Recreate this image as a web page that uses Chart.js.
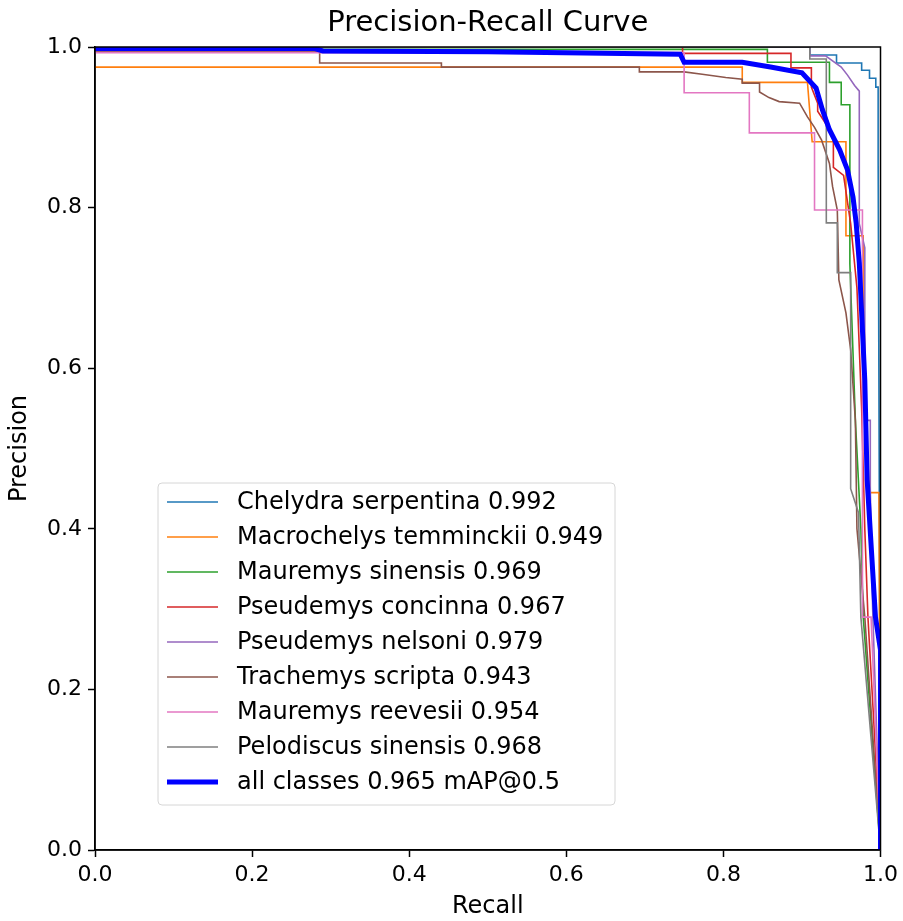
<!DOCTYPE html>
<html lang="en">
<head>
  <meta charset="UTF-8" />
  <title>Precision-Recall Curve</title>
  <script src="https://cdn.jsdelivr.net/npm/chart.js"></script>
  <style>
    * { box-sizing: border-box; margin: 0; padding: 0; }
    html, body { width: 903px; height: 921px; background: #fff; overflow: hidden; }
    #wrap { position: relative; width: 903px; height: 921px; }
  </style>
</head>
<body>
  <div id="wrap"><canvas id="prChart"></canvas></div>

  <script>
    // [recall, precision] pairs
    const chelydra = [[0,1],[0.91,1],[0.91,0.99],[0.944,0.99],[0.944,0.98],[0.976,0.98],[0.976,0.971],[0.986,0.971],[0.986,0.961],[0.994,0.961],[0.994,0.95],[0.997,0.95],[0.997,0.86],[1,0]];
    const macrochelys = [[0,0.975],[0.824,0.975],[0.824,0.956],[0.907,0.956],[0.913,0.882],[0.956,0.882],[0.956,0.765],[0.978,0.765],[0.978,0.70],[0.983,0.50],[0.986,0.445],[0.998,0.445],[1,0]];
    const mauremysSinensis = [[0,0.997],[0.856,0.997],[0.856,0.981],[0.935,0.981],[0.935,0.956],[0.95,0.956],[0.95,0.928],[0.961,0.928],[0.961,0.73],[0.968,0.535],[0.975,0.40],[0.978,0.29],[1,0]];
    const pseudemysConcinna = [[0,1],[0.748,1],[0.748,0.992],[0.886,0.992],[0.886,0.974],[0.912,0.974],[0.912,0.95],[0.92,0.93],[0.92,0.92],[0.94,0.89],[0.94,0.85],[0.953,0.84],[0.962,0.78],[0.97,0.70],[0.976,0.55],[0.98,0.40],[0.984,0.29],[0.992,0.15],[1,0]];
    const pseudemysNelsoni = [[0,1],[0.91,1],[0.91,0.989],[0.93,0.989],[0.95,0.975],[0.958,0.965],[0.967,0.952],[0.973,0.945],[0.973,0.78],[0.98,0.75],[0.98,0.535],[0.987,0.535],[0.987,0.45],[0.99,0.30],[1,0]];
    const trachemys = [[0,0.994],[0.286,0.994],[0.286,0.980],[0.441,0.980],[0.441,0.975],[0.693,0.975],[0.693,0.969],[0.75,0.969],[0.773,0.966],[0.803,0.962],[0.824,0.960],[0.824,0.955],[0.846,0.955],[0.846,0.944],[0.858,0.937],[0.871,0.932],[0.897,0.930],[0.907,0.913],[0.916,0.900],[0.925,0.884],[0.935,0.855],[0.939,0.826],[0.945,0.797],[0.947,0.710],[0.956,0.669],[0.962,0.623],[0.968,0.535],[0.970,0.40],[0.98,0.29],[1,0]];
    const mauremysReevesii = [[0,0.993],[0.75,0.993],[0.75,0.943],[0.833,0.943],[0.833,0.893],[0.916,0.893],[0.916,0.797],[0.977,0.797],[0.977,0.29],[0.988,0.29],[1,0]];
    const pelodiscus = [[0,1],[0.91,1],[0.91,0.985],[0.931,0.985],[0.931,0.781],[0.945,0.781],[0.945,0.719],[0.962,0.719],[0.962,0.45],[0.972,0.42],[0.975,0.29],[1,0]];
    const allClasses = [[0,0.998],[0.28,0.998],[0.29,0.995],[0.5,0.994],[0.745,0.991],[0.75,0.981],[0.824,0.981],[0.86,0.975],[0.90,0.968],[0.918,0.949],[0.926,0.922],[0.935,0.897],[0.948,0.872],[0.958,0.847],[0.965,0.813],[0.969,0.781],[0.973,0.731],[0.98,0.585],[0.983,0.461],[0.9936,0.29],[1,0.249],[1,0]];

    const seriesLabels = [
      'Chelydra serpentina 0.992',
      'Macrochelys temminckii 0.949',
      'Mauremys sinensis 0.969',
      'Pseudemys concinna 0.967',
      'Pseudemys nelsoni 0.979',
      'Trachemys scripta 0.943',
      'Mauremys reevesii 0.954',
      'Pelodiscus sinensis 0.968',
      'all classes 0.965 mAP@0.5'
    ];
    const seriesData = [chelydra, macrochelys, mauremysSinensis, pseudemysConcinna, pseudemysNelsoni, trachemys, mauremysReevesii, pelodiscus, allClasses];
    const tickValues = [0, 0.2, 0.4, 0.6, 0.8, 1.0];

    const colors = ['#1f77b4', '#ff7f0e', '#2ca02c', '#d62728', '#9467bd', '#8c564b', '#e377c2', '#7f7f7f', '#0000ff'];

    Chart.defaults.font.family = "'DejaVu Sans', sans-serif";
    Chart.defaults.color = '#000';

    // title over the axes, top/right spines, matplotlib style legend inside the axes
    const mplExtras = {
      id: 'mplExtras',
      afterDraw(chart) {
        const ctx = chart.ctx;
        const a = chart.chartArea;
        ctx.save();
        ctx.strokeStyle = '#000';
        ctx.lineWidth = 1.5;
        ctx.strokeRect(a.left, a.top, a.right - a.left, a.bottom - a.top);

        ctx.fillStyle = '#000';
        ctx.font = "29px 'DejaVu Sans'";
        ctx.textAlign = 'center';
        ctx.textBaseline = 'middle';
        ctx.fillText('Precision-Recall Curve', (a.left + a.right) / 2, a.top - 24);

        // legend box
        const bx = a.left + 63, by = a.top + 436, bw = 457, bh = 322, r = 4;
        ctx.beginPath();
        ctx.moveTo(bx + r, by);
        ctx.arcTo(bx + bw, by, bx + bw, by + bh, r);
        ctx.arcTo(bx + bw, by + bh, bx, by + bh, r);
        ctx.arcTo(bx, by + bh, bx, by, r);
        ctx.arcTo(bx, by, bx + bw, by, r);
        ctx.closePath();
        ctx.fillStyle = 'rgba(255,255,255,0.8)';
        ctx.fill();
        ctx.strokeStyle = '#d6d6d6';
        ctx.lineWidth = 1;
        ctx.stroke();

        ctx.font = "24px 'DejaVu Sans'";
        ctx.textBaseline = 'middle';
        ctx.textAlign = 'left';
        chart.data.datasets.forEach((ds, i) => {
          const y = by + 19 + i * 35;
          ctx.beginPath();
          ctx.strokeStyle = ds.borderColor;
          ctx.lineWidth = ds.borderWidth;
          ctx.moveTo(bx + 9, y);
          ctx.lineTo(bx + 60, y);
          ctx.stroke();
          ctx.fillStyle = '#000';
          ctx.fillText(ds.label, bx + 79, y + 1);
        });
        ctx.restore();
      }
    };

    new Chart(document.getElementById('prChart'), {
      type: 'line',
      data: {
        datasets: seriesData.map((pts, i) => ({
          label: seriesLabels[i],
          data: pts.map(p => ({ x: p[0], y: p[1] })),
          borderColor: colors[i],
          borderWidth: i === 8 ? 5 : 1.6,
          pointRadius: 0,
          fill: false,
          tension: 0,
          clip: 0,
          order: 8 - i
        }))
      },
      options: {
        responsive: true,
        maintainAspectRatio: false,
        animation: false,
        layout: { padding: { top: 47, right: 22, left: 0, bottom: 0 } },
        plugins: {
          legend: { display: false },
          tooltip: { enabled: false },
          title: { display: false }
        },
        scales: {
          x: {
            type: 'linear',
            min: 0,
            max: 1,
            afterBuildTicks: s => { s.ticks = tickValues.map(v => ({ value: v })); },
            afterFit: s => { s.height = 71; },
            ticks: { font: { size: 22 }, padding: 5, callback: v => v.toFixed(1), maxRotation: 0 },
            grid: { drawOnChartArea: false, drawTicks: true, tickLength: 7, color: '#000', tickWidth: 1.5 },
            border: { display: true, color: '#000', width: 1.5 },
            title: { display: true, text: 'Recall', font: { size: 24 }, padding: { top: 0, bottom: 0 } }
          },
          y: {
            min: 0,
            max: 1,
            afterBuildTicks: s => { s.ticks = tickValues.map(v => ({ value: v })); },
            afterFit: s => { s.width = 95; },
            ticks: { font: { size: 22 }, padding: 6, callback: v => v.toFixed(1) },
            grid: { drawOnChartArea: false, drawTicks: true, tickLength: 7, color: '#000', tickWidth: 1.5 },
            border: { display: true, color: '#000', width: 1.5 },
            title: { display: true, text: 'Precision', font: { size: 24 }, padding: { top: 5, bottom: 0 } }
          }
        }
      },
      plugins: [mplExtras]
    });
  </script>
</body>
</html>
